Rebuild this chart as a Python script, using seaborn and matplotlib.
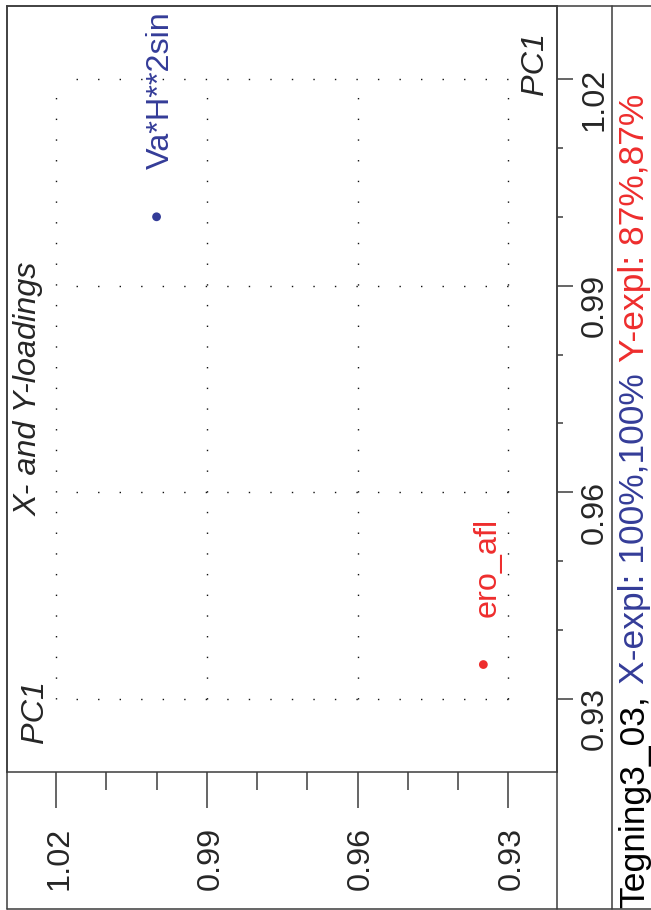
import matplotlib
matplotlib.use("Agg")
import matplotlib.pyplot as plt
from matplotlib.lines import Line2D
from matplotlib.text import Annotation
from matplotlib.ticker import FixedLocator
import seaborn as sns
import pandas as pd

# PC1 loadings, same component on both axes
var_names = ["Va*H**2sin", "ero_afl"]
var_block = ["X", "Y"]
pc1_horiz = [1.000, 0.935]   # runs along the long edge of the page
pc1_vert = [1.000, 0.935]    # runs along the short edge of the page

major_ticks = [0.93, 0.96, 0.99, 1.02]
minor_ticks = [0.94, 0.95, 0.97, 0.98, 1.00, 1.01]
tick_labels = ["0.93", "0.96", "0.99", "1.02"]

caption_parts = ["Tegning3_03,", "X-expl: 100%,100%", "Y-expl: 87%,87%"]

BLUE = "#343C98"
RED = "#EE2D2D"
LINE = "#3c3c3c"
block_colors = {"X": BLUE, "Y": RED}
caption_colors = ["black", BLUE, RED]

sns.set_style("white")
plt.rcParams["font.family"] = ["Liberation Sans", "DejaVu Sans"]
FS = 23.3
CAP_FS = 25.5

W, H = 651, 910


def fx(px):
    return px / W


def fy(py):
    return 1 - py / H


df = pd.DataFrame({"name": var_names, "block": var_block,
                   "pc1_horiz": pc1_horiz, "pc1_vert": pc1_vert})

fig = plt.figure(figsize=(W / 100, H / 100), dpi=100)
ax = fig.add_axes([fx(7), fy(772), 550 / W, 766 / H])

# dotted grid only inside the tick range
ax.vlines(major_ticks, 0.93, 1.02, colors="#111111", lw=1.0,
          linestyles=[(0, (1, 13.9))], zorder=1)
ax.hlines(major_ticks, 0.93, 1.02, colors="#111111", lw=1.0,
          linestyles=[(0, (1, 14.5))], zorder=1)

sns.scatterplot(data=df, x="pc1_vert", y="pc1_horiz", hue="block",
                palette=block_colors, s=40, linewidth=0, legend=False,
                ax=ax, zorder=3)

for _, row in df.iterrows():
    ax.annotate(row["name"], (row["pc1_vert"], row["pc1_horiz"]),
                xytext=(12, 48), textcoords="offset pixels", rotation=90,
                rotation_mode="anchor", ha="left", va="baseline",
                color=block_colors[row["block"]], fontsize=FS)

ax.set_xlim(1.02975, 0.92035)
ax.set_ylim(0.9194, 1.0306)
ax.set_xlabel("")
ax.set_ylabel("")

for side in ["left", "right", "top", "bottom"]:
    ax.spines[side].set_color(LINE)
    ax.spines[side].set_linewidth(1.1)

ax.yaxis.tick_right()
ax.tick_params(axis="x", which="both", bottom=True, top=False)
ax.tick_params(axis="y", which="both", right=True, left=False)
ax.tick_params(axis="x", which="major", direction="out", length=26,
               width=1.1, color=LINE, pad=13.5, labelsize=FS,
               labelrotation=90)
ax.tick_params(axis="x", which="minor", direction="out", length=13,
               width=1.1, color=LINE)
ax.tick_params(axis="y", which="major", direction="out", length=11.5,
               width=1.1, color=LINE, pad=5, labelsize=FS,
               labelrotation=90)
ax.tick_params(axis="y", which="minor", direction="out", length=4.3,
               width=1.1, color=LINE)
ax.xaxis.set_major_locator(FixedLocator(major_ticks))
ax.xaxis.set_minor_locator(FixedLocator(minor_ticks))
ax.yaxis.set_major_locator(FixedLocator(major_ticks))
ax.yaxis.set_minor_locator(FixedLocator(minor_ticks))
ax.set_xticklabels(tick_labels)
ax.set_yticklabels(tick_labels)
plt.setp(ax.get_xticklabels(), rotation_mode="anchor", ha="right",
         va="center_baseline")


def side_text(px, py, s, **kw):
    return fig.text(fx(px), fy(py), s, rotation=90, rotation_mode="anchor",
                    va="baseline", fontsize=FS, **kw)


side_text(37, 389, "X- and Y-loadings", ha="center", style="italic")
side_text(543, 95, "PC1", ha="left", style="italic")
side_text(43, 743, "PC1", ha="left", style="italic")

# frame around the tick strips and the caption strip
frame = [((7, 651), (6, 6)), ((7, 651), (909, 909)), ((7, 7), (6, 909)),
         ((557, 557), (6, 909)), ((612, 612), (6, 909))]
for xs, ys in frame:
    fig.add_artist(Line2D([fx(v) for v in xs], [fy(v) for v in ys],
                          color=LINE, lw=1.1, transform=fig.transFigure))

# caption in three colours, chained end to end
t = fig.text(fx(644), fy(908), caption_parts[0], rotation=90,
             rotation_mode="anchor", ha="left", va="baseline",
             fontsize=CAP_FS, color=caption_colors[0])
for part, col in zip(caption_parts[1:], caption_colors[1:]):
    t = fig.add_artist(Annotation(
        part, xy=(0.5, 1), xycoords=t, xytext=(0, 11),
        textcoords="offset pixels", rotation=90, ha="center", va="bottom",
        fontsize=CAP_FS, color=col))

fig.savefig("out.png", dpi=100)
